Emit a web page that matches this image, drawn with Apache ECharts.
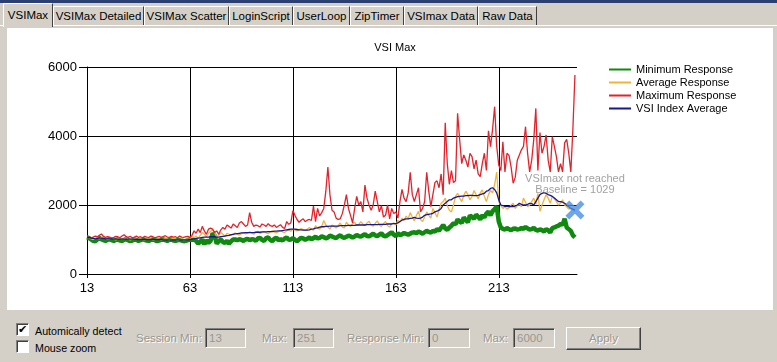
<!DOCTYPE html>
<html><head><meta charset="utf-8">
<script src="https://cdn.jsdelivr.net/npm/echarts@6/dist/echarts.min.js"></script>
<style>
html,body{margin:0;padding:0;width:777px;height:362px;overflow:hidden;background:#d4d0c8;font-family:'Liberation Sans',Arial,sans-serif;font-size:11px;}
#topbar{position:absolute;left:0;top:0;width:777px;height:3px;background:#2a3f72;}
.tab{position:absolute;top:6px;height:19px;line-height:18px;text-align:center;color:#000;font-size:11.5px;box-sizing:border-box;border-top:1px solid #fff;border-left:1px solid #fff;border-right:1px solid #404040;background:#d4d0c8;white-space:nowrap;}
.tab.sel{top:3px;height:24px;line-height:22px;background:#d4d0c8;z-index:2;}
#tabline{position:absolute;left:0;top:25px;width:777px;height:1px;background:#fff;}
#panel{position:absolute;left:7px;top:28px;width:766px;height:282px;background:#fff;}
#chart{position:absolute;left:0;top:0;width:777px;height:362px;z-index:3;}
.cb{position:absolute;left:16px;width:11px;height:11px;background:#fff;border-top:1px solid #808080;border-left:1px solid #808080;border-right:1px solid #fff;border-bottom:1px solid #fff;box-shadow:inset 1px 1px 0 #404040;font-size:11px;line-height:11px;text-align:center;}
.lbl{position:absolute;font-size:11.5px;color:#000;white-space:nowrap;}
.lbl.sm{font-size:10.7px;}
.dis{color:#9a978f;text-shadow:1px 1px 0 #fff;}
.tb{position:absolute;top:328px;height:20px;box-sizing:border-box;border-top:1px solid #808080;border-left:1px solid #808080;border-right:1px solid #fff;border-bottom:1px solid #fff;box-shadow:inset 1px 1px 0 #404040;background:#d4d0c8;color:#9a978f;font-size:11.5px;line-height:18px;padding-left:3px;}
#apply{position:absolute;left:566px;top:327px;width:75px;height:23px;box-sizing:border-box;border-top:1px solid #fff;border-left:1px solid #fff;border-right:1px solid #404040;border-bottom:1px solid #404040;box-shadow:inset -1px -1px 0 #808080;text-align:center;line-height:21px;font-size:11.5px;color:#9a978f;text-shadow:1px 1px 0 #fff;}
</style></head>
<body>
<div id="topbar"></div>
<div id="tabline"></div>
<div class="tab sel" style="left:3px;width:50px;">VSIMax</div>
<div class="tab" style="left:53px;width:91px;">VSIMax Detailed</div>
<div class="tab" style="left:144px;width:85px;">VSIMax Scatter</div>
<div class="tab" style="left:229px;width:64px;">LoginScript</div>
<div class="tab" style="left:293px;width:57px;">UserLoop</div>
<div class="tab" style="left:350px;width:54px;">ZipTimer</div>
<div class="tab" style="left:404px;width:74px;">VSImax Data</div>
<div class="tab" style="left:478px;width:59px;">Raw Data</div>
<div id="panel"></div>
<div class="cb" style="top:323px;">&#10004;</div>
<div class="lbl sm" style="left:35px;top:325px;">Automically detect</div>
<div class="cb" style="top:340px;"></div>
<div class="lbl sm" style="left:35px;top:342px;">Mouse zoom</div>
<div class="lbl dis" style="left:136px;top:332px;">Session Min:</div>
<div class="tb" style="left:205px;width:41px;">13</div>
<div class="lbl dis" style="left:262px;top:332px;">Max:</div>
<div class="tb" style="left:293px;width:41px;">251</div>
<div class="lbl dis" style="left:347px;top:332px;">Response Min:</div>
<div class="tb" style="left:428px;width:42px;">0</div>
<div class="lbl dis" style="left:483px;top:332px;">Max:</div>
<div class="tb" style="left:513px;width:42px;">6000</div>
<div id="apply">Apply</div>
<div id="chart"></div>
<script>
// ---- data ----
var sessionStart = 13;
var sessionEnd = 251;
var chartTitle = 'VSI Max';
var seriesNames = ['Minimum Response', 'Average Response', 'Maximum Response', 'VSI Index Average'];
var yTickStep = 2000;
var yMax = 6000;
var xLabelStep = 50;

// sessions 13..250
var minResponse = [
1060,1040,1000,960,950,1000,1040,1010,980,960,
990,1010,980,960,990,1000,970,960,990,1010,
980,950,970,1000,990,960,980,1010,990,970,
960,990,1000,980,950,970,990,1000,980,960,
990,1000,970,960,980,990,970,950,960,980,
1000,990,1000,960,880,940,1000,860,980,900,
960,1180,1120,880,950,1000,930,900,960,880,
950,1000,1000,980,1010,990,960,1000,1020,980,
1010,1000,960,1030,1050,990,960,1040,1060,990,
950,1020,1050,980,1010,970,1030,1060,990,1000,
1040,990,950,1000,1050,1030,990,1020,1060,1010,
1040,1080,1030,1050,1090,1070,1030,1060,1110,1090,
1060,1040,1090,1120,1070,1050,1080,1110,1090,1060,
1090,1130,1100,1080,1120,1150,1100,1090,1130,1170,
1120,1100,1140,1180,1110,1090,1130,1170,1210,1140,
1100,1180,1130,1150,1190,1160,1140,1170,1200,1210,
1180,1230,1200,1170,1210,1250,1220,1200,1250,1230,
1300,1260,1340,1420,1320,1280,1350,1400,1470,1440,
1580,1520,1480,1640,1560,1500,1700,1650,1600,1720,
1660,1580,1700,1640,1750,1810,1700,1820,1880,1960,
1520,1350,1310,1290,1330,1300,1270,1310,1320,1290,
1300,1330,1310,1360,1320,1290,1300,1340,1280,1260,
1290,1270,1230,1300,1270,1200,1330,1350,1380,1400,
1450,1430,1600,1350,1300,1250,1120,1060
];
var avgResponse = [
1100,1060,1020,1000,1030,1050,1020,1060,1080,1030,
1000,1020,1050,1010,990,1030,1040,1000,1020,1050,
1010,990,1020,1040,1000,1010,1030,1000,990,1020,
1040,1010,990,1000,1030,1020,990,1000,1020,1010,
990,1010,1030,1000,980,1000,1020,990,1000,1010,
1020,1080,1060,1100,1040,1120,1200,1150,1080,1180,
1230,1280,1200,1080,1130,1200,1150,1100,1180,1150,
1120,1160,1190,1150,1130,1170,1200,1160,1180,1220,
1190,1150,1210,1240,1180,1200,1230,1190,1170,1220,
1250,1210,1190,1230,1260,1220,1200,1250,1280,1240,
1300,1270,1250,1280,1320,1290,1260,1300,1350,1290,
1270,1400,1330,1300,1380,1550,1420,1360,1300,1420,
1380,1330,1400,1480,1360,1340,1500,1420,1380,1460,
1500,1410,1440,1520,1450,1400,1480,1530,1420,1390,
1470,1540,1420,1380,1460,1520,1400,1360,1450,1480,
1420,1560,1500,1620,1550,1680,1600,1780,1650,1540,
1700,1820,1580,1520,1650,1800,1700,1620,1900,1780,
1650,1860,2050,2100,2200,1980,1850,1800,2000,2250,
2340,2200,2100,2280,2400,2300,2150,2250,2420,2300,
2180,2350,2440,2250,2100,2300,2420,2350,2600,2950,
2100,1980,1900,1950,1880,1920,2000,2050,1900,1980,
2020,1950,2200,2080,1950,2000,2100,2200,2020,2340,
1820,2000,2150,2300,2200,2050,2250,2180,2100,2000,
2050,2150,2000,1950,1880,1900,1850,1820
];
var maxResponse = [
1080,1060,1040,1070,1100,1080,1120,1160,1090,1060,
1080,1070,1040,1060,1090,1080,1050,1100,1140,1080,
1060,1090,1050,1070,1100,1060,1080,1050,1090,1070,
1060,1100,1080,1050,1070,1090,1060,1080,1110,1070,
1060,1090,1070,1080,1050,1100,1070,1060,1080,1090,
1060,1120,1250,1180,1300,1200,1380,1250,1150,1300,
1330,1300,1200,1250,1150,1280,1350,1300,1420,1380,
1330,1450,1400,1350,1480,1520,1450,1380,1420,1780,
1500,1380,1420,1400,1360,1450,1420,1380,1460,1400,
1380,1420,1350,1390,1430,1350,1320,1520,1440,1480,
1840,1700,1580,1500,1560,1600,1520,1560,1580,1550,
1970,1520,1900,1680,1780,1900,2400,3100,2300,1850,
1800,1620,1580,1600,1750,2000,2300,1900,1700,1480,
1900,2250,2000,2100,1800,2580,2200,2000,1850,2000,
2400,2100,1800,1980,1650,1700,2000,1600,1900,1750,
1800,1620,2100,2450,2200,2100,2350,2950,2300,2100,
2300,2500,1800,1900,2100,2950,2400,1950,2300,2650,
2700,2500,2900,2300,4380,3200,2600,3000,2650,2700,
4660,3900,3200,3450,3300,3100,3500,3400,3050,3300,
2900,2820,3200,3500,3000,4150,3690,4200,4850,3700,
3160,3000,3830,2960,3500,3430,3100,2630,2800,3300,
3450,3600,3700,4270,3500,2960,3300,3900,4800,3000,
4100,3500,3700,4030,3300,2960,3980,3700,3400,2960,
3200,2960,3800,3900,3500,2960,4200,5770
];
var vsiIndexAvg = [
1070,1060,1040,1030,1020,1030,1040,1040,1030,1020,
1020,1020,1020,1010,1010,1010,1010,1010,1010,1010,
1010,1010,1010,1010,1000,1000,1000,1000,1000,1000,
1000,1000,1000,1000,1000,1000,1000,990,990,990,
990,990,990,990,990,990,990,990,990,990,
1000,1010,1020,1030,1040,1050,1060,1070,1070,1070,
1080,1080,1080,1070,1070,1080,1090,1100,1110,1120,
1140,1150,1160,1170,1180,1190,1190,1200,1200,1200,
1200,1200,1210,1210,1210,1220,1220,1220,1230,1230,
1230,1240,1240,1250,1250,1260,1270,1280,1290,1300,
1300,1300,1290,1280,1280,1270,1270,1270,1280,1300,
1310,1330,1340,1360,1370,1370,1380,1380,1390,1390,
1390,1390,1390,1400,1400,1400,1400,1410,1410,1410,
1410,1420,1420,1420,1420,1420,1430,1430,1430,1430,
1430,1430,1440,1440,1440,1440,1450,1450,1450,1460,
1460,1480,1520,1560,1580,1600,1600,1610,1620,1640,
1620,1610,1620,1650,1700,1720,1730,1740,1760,1800,
1820,1850,1900,2000,2050,2100,2150,2150,2200,2220,
2240,2250,2260,2260,2270,2270,2280,2280,2270,2270,
2280,2300,2320,2340,2400,2420,2480,2500,2450,2350,
2150,2000,1980,1960,1960,1950,1960,1950,1970,2000,
2050,2020,2000,2000,2020,2050,2040,2000,2100,2200,
2300,2340,2360,2340,2300,2280,2250,2200,2150,2100,
2100,2080,2050,2000,1950,1900,1880,1850
];
var vsimaxSession = '250';
var vsimaxValue = 1855;
var vsimaxText = ['VSImax not reached', 'Baseline = 1029'];

// ---- chart ----
var categories = [];
for (var s = sessionStart; s <= sessionEnd; s++) categories.push(String(s));

var FONT = 'Liberation Sans';
var colors = ['#0f8a0f', '#f2b33d', '#e3232c', '#17178f'];
var widths = [4.5, 1.3, 1.3, 1.3];
var chart = echarts.init(document.getElementById('chart'), null, {renderer: 'canvas'});
var lines = [minResponse, avgResponse, maxResponse, vsiIndexAvg].map(function (d, i) {
  return {
    name: seriesNames[i], type: 'line', data: d, symbol: 'none', showSymbol: false,
    lineStyle: {color: colors[i], width: widths[i]}, itemStyle: {color: colors[i]},
    z: 2 + i, animation: false, silent: true
  };
});
lines.push({
  type: 'scatter', name: 'VSImax', data: [[vsimaxSession, vsimaxValue]],
  symbol: 'path://M0,4 L4,0 L10,6 L16,0 L20,4 L14,10 L20,16 L16,20 L10,14 L4,20 L0,16 L6,10 Z',
  symbolSize: 19, itemStyle: {color: '#4a8fe6'}, z: 10, animation: false,
  label: {show: true, position: 'top', distance: 5, formatter: vsimaxText.join('\n'),
    color: '#8a8a8a', fontSize: 11, lineHeight: 11, fontFamily: FONT, align: 'center'}
});

chart.setOption({
  animation: false,
  textStyle: {fontFamily: FONT},
  title: {text: chartTitle, left: 390, top: 37, textAlign: 'center',
    textStyle: {fontSize: 11, fontWeight: 'normal', color: '#000', fontFamily: FONT}},
  legend: {orient: 'vertical', left: 608, top: 64, padding: 0, itemWidth: 22, itemHeight: 12, itemGap: 2,
    data: seriesNames, itemStyle: {opacity: 0, borderWidth: 0},
    textStyle: {fontSize: 11, color: '#000', fontFamily: FONT},
    selectedMode: false},
  grid: {left: 87, top: 67, right: 200, bottom: 88, containLabel: false},
  xAxis: {
    type: 'category', data: categories, boundaryGap: false,
    axisLine: {lineStyle: {color: '#000', width: 1}},
    axisTick: {show: true, interval: xLabelStep - 1, length: 4, lineStyle: {color: '#000'}},
    axisLabel: {interval: xLabelStep - 1, color: '#000', fontSize: 13, margin: 8, fontFamily: FONT},
    splitLine: {show: true, interval: xLabelStep - 1, lineStyle: {color: '#000', width: 1}}
  },
  yAxis: {
    type: 'value', min: 0, max: yMax, interval: yTickStep,
    axisLine: {show: true, lineStyle: {color: '#000', width: 1}},
    axisTick: {show: true, length: 8, lineStyle: {color: '#000'}},
    axisLabel: {color: '#000', fontSize: 13, margin: 10, fontFamily: FONT,
      formatter: function (v) { return String(v); }},
    splitLine: {show: true, lineStyle: {color: '#000', width: 1}}
  },
  series: lines
});
</script>
</body></html>
